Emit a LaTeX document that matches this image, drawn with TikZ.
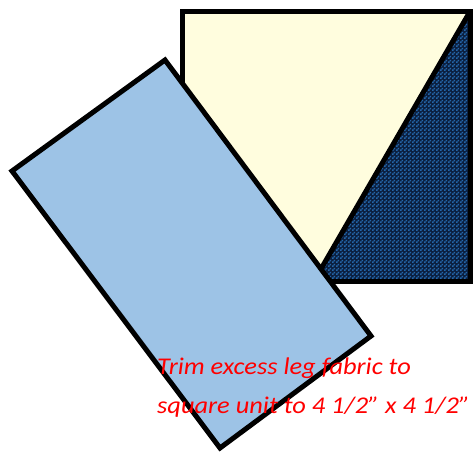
\documentclass[tikz,border=0pt]{standalone}
\usepackage{fontspec}
\setmainfont{Carlito}
\newfontfamily\notefont[FakeStretch=1.1]{Carlito}
\usetikzlibrary{patterns}
\definecolor{cream}{HTML}{FFFDDE}
\definecolor{navy}{HTML}{0B1F3F}
\definecolor{checkblue}{HTML}{2466AA}
\definecolor{legblue}{HTML}{9DC3E6}
\pgfdeclarepatternformonly{finechecks}{\pgfpointorigin}{\pgfqpoint{4pt}{4pt}}{\pgfqpoint{4pt}{4pt}}{%
  \pgfpathrectangle{\pgfpointorigin}{\pgfqpoint{2pt}{2pt}}%
  \pgfpathrectangle{\pgfqpoint{2pt}{2pt}}{\pgfqpoint{2pt}{2pt}}%
  \pgfusepath{fill}}
\tikzset{
  every picture/.style={line join=miter},
  patch/.style={draw=black,line width=5pt},
  note/.style={text=red,font=\notefont\itshape\fontsize{24}{39}\selectfont,anchor=base west,inner sep=0pt},
}
\begin{document}
\begin{tikzpicture}[x=1pt,y=-1pt]
\useasboundingbox (0,0) rectangle (473,455);
% square unit
\coordinate (sqtl) at (182.5,11.5);
\coordinate (sqtr) at (470,11.5);
\coordinate (sqbr) at (470,281);
\coordinate (sqbl) at (182.5,281);
\coordinate (diag) at (314,281);
\fill[cream] (sqtl)--(sqtr)--(sqbr)--(sqbl)--cycle;
\fill[navy] (sqtr)--(sqbr)--(diag)--cycle;
\fill[pattern=finechecks,pattern color=checkblue] (sqtr)--(sqbr)--(diag)--cycle;
\draw[patch] (sqtl)--(sqtr)--(sqbr)--(sqbl)--cycle;
\draw[line width=5pt] (sqtr)--(diag);
% leg fabric
\coordinate (legt) at (165,60);
\coordinate (legr) at (371,336);
\coordinate (legb) at (220,448);
\coordinate (legl) at (12,171);
\draw[patch,fill=legblue] (legt)--(legr)--(legb)--(legl)--cycle;
% note
\node[note] (trim1) at (157,374) {Trim excess leg fabric to};
\node[note] (trim2) at (157,413) {square unit to 4 1/2” x 4 1/2”};
\end{tikzpicture}
\end{document}
